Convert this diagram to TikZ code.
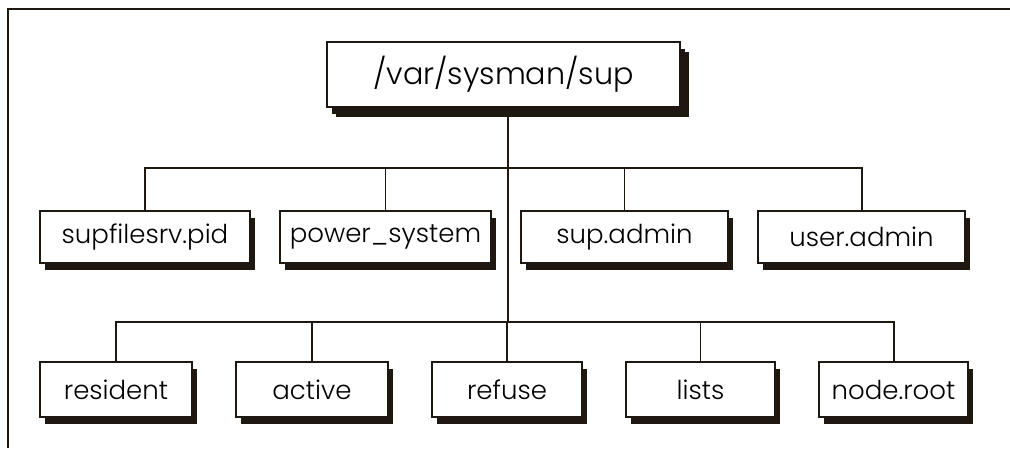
\documentclass[tikz,border=0pt]{standalone}
\usepackage{fontspec}
\setmainfont{Poppins}[UprightFont=* Light]
\usetikzlibrary{shadows}

\definecolor{ink}{RGB}{30,24,16}

\tikzset{
  dirbox/.style={draw=ink,fill=white,line width=1.4pt,inner sep=0pt,
    drop shadow={opacity=1,fill=ink,shadow xshift=3.5pt,shadow yshift=-5pt},
    font=\fontsize{18.5}{22}\selectfont},
  topbox/.style={dirbox,minimum width=8.825cm,minimum height=1.625cm,
    drop shadow={opacity=1,fill=ink,shadow xshift=6.4pt,shadow yshift=-7pt},
    font=\fontsize{21.5}{26}\selectfont},
  link/.style={draw=ink,line width=1.4pt}
}

\begin{document}
\begin{tikzpicture}[x=0.025cm,y=-0.025cm]
  \useasboundingbox (0,0) rectangle (1010,448);

  % frame
  \draw[link] (1010,9) -- (8,9) -- (8,448);

  % bus points of the two levels
  \coordinate (bus1) at (508,168);
  \coordinate (bus2) at (508,322);

  % top directory
  \node[topbox] (sup) at (503.5,74.5) {/var/sysman/sup};

  % first level
  \node[dirbox,minimum width=5.25cm,minimum height=1.3cm] (pid) at (145,237) {supfilesrv.pid};
  \node[dirbox,minimum width=5.275cm,minimum height=1.3cm] (power) at (385.5,237) {power\_system};
  \node[dirbox,minimum width=5.175cm,minimum height=1.3cm] (supadm) at (624.5,237) {sup.admin};
  \node[dirbox,minimum width=5.175cm,minimum height=1.3cm] (useradm) at (861.5,237) {user.admin};

  % second level
  \node[dirbox,minimum width=3.8cm,minimum height=1.375cm] (resident) at (116,389.5) {resident};
  \node[dirbox,minimum width=3.8cm,minimum height=1.375cm] (active) at (312,389.5) {active};
  \node[dirbox,minimum width=3.75cm,minimum height=1.375cm] (refuse) at (507,389.5) {refuse};
  \node[dirbox,minimum width=3.725cm,minimum height=1.375cm] (lists) at (700.5,389.5) {lists};
  \node[dirbox,minimum width=3.725cm,minimum height=1.375cm] (noderoot) at (893.5,389.5) {node.root};

  % tree lines
  \draw[link] (sup.south -| bus1) -- (bus2);
  \draw[link] (pid.north) |- (bus1) -| (useradm.north);
  \draw[link] (power.north) -- (power.north |- bus1);
  \draw[link] (supadm.north) -- (supadm.north |- bus1);
  \draw[link] (resident.north) |- (bus2) -| (noderoot.north);
  \draw[link] (active.north) -- (active.north |- bus2);
  \draw[link] (refuse.north) -- (refuse.north |- bus2);
  \draw[link] (lists.north) -- (lists.north |- bus2);
\end{tikzpicture}
\end{document}
